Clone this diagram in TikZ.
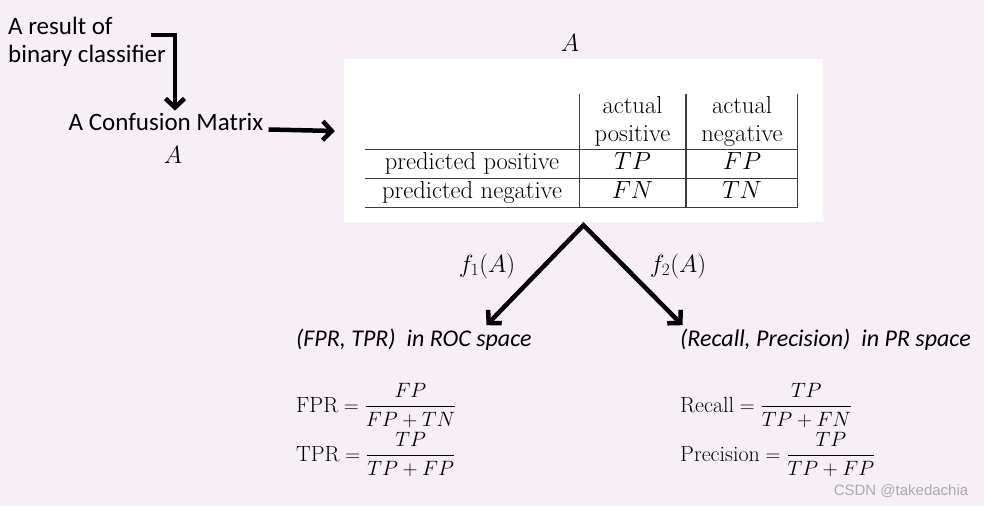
\documentclass[tikz,border=0pt]{standalone}
\usepackage{fontspec}
\usepackage{amsmath}
\newfontfamily\labfont{Carlito}
\newfontfamily\wmfont{Liberation Sans}
\usetikzlibrary{arrows.meta,calc}
\definecolor{bgpink}{RGB}{246,240,246}
\definecolor{rulegray}{RGB}{60,60,60}
\definecolor{wmgray}{RGB}{170,170,170}

\begin{document}
\begin{tikzpicture}[x=1pt, y=-1pt,
    lbl/.style={font=\labfont\fontsize{25}{28}\selectfont, inner sep=0pt},
    spacelbl/.style={font=\labfont\itshape\fontsize{24}{28}\selectfont, inner sep=0pt, anchor=base west},
    matA/.style={font=\fontsize{30}{34}\selectfont, inner sep=0pt},
    cell/.style={font=\fontsize{24.6}{28}\selectfont, inner sep=0pt, anchor=base},
    eqn/.style={font=\fontsize{22}{26}\selectfont, inner sep=0pt, anchor=base west},
    fn/.style={font=\fontsize{24}{28}\selectfont, inner sep=0pt},
    arr/.style={line width=4.5pt, -{Straight Barb[length=9pt,width=19pt]}},
    fork/.style={line width=4.5pt, line join=miter,
                 {Straight Barb[length=9pt,width=19pt]}-{Straight Barb[length=9pt,width=19pt]}},
    tabrule/.style={rulegray, line width=1.4pt},
  ]

  % ===== canvas =====
  \fill[bgpink] (0,0) rectangle (984,506);
  \useasboundingbox (0,0) rectangle (984,506);

  % ===== left: classifier -> confusion matrix =====
  \node[lbl, align=left, anchor=north west] (res) at (8,17) {A result of\\binary classifier};
  \node[lbl, anchor=base] (cm) at (166,130) {A Confusion Matrix};
  \node[matA, anchor=base] (cmA) at (173,163) {$A$};

  % ===== matrix box =====
  \node[fill=white, minimum width=479, minimum height=163, inner sep=0pt] (mtx) at (583.5,140.5) {};
  \node[matA, anchor=base] (topA) at (570,51) {$A$};

  % table rules
  \foreach \y in {149.5,178.5,207.5}
    \draw[tabrule] (365,\y) -- (798,\y);
  \foreach \x in {579.5,686,797.5}
    \draw[tabrule] (\x,94) -- (\x,207.5);

  % table cells
  \node[cell] (hA1) at (632.5,113) {actual};
  \node[cell] (hP)  at (632.5,141) {positive};
  \node[cell] (hA2) at (742,113) {actual};
  \node[cell] (hN)  at (742,141) {negative};
  \node[cell] (rP)  at (472,169) {predicted positive};
  \node[cell] (rN)  at (472,198) {predicted negative};
  \node[cell] (tp)  at (632.5,169) {$TP$};
  \node[cell] (fp)  at (742,169) {$FP$};
  \node[cell] (fnc) at (632.5,198) {$FN$};
  \node[cell] (tn)  at (742,198) {$TN$};

  % ===== the two spaces =====
  \node[spacelbl] (roc) at (296,346) {(FPR, TPR)\ \ in ROC space};
  \node[spacelbl] (pr)  at (680,346) {(Recall, Precision)\ \ in PR space};

  \node[fn] (f1) at (487,266) {$f_1(A)$};
  \node[fn] (f2) at (678,266) {$f_2(A)$};

  \node[eqn] (fpr)  at (296,412) {$\mathrm{FPR}=\dfrac{FP}{FP+TN}$};
  \node[eqn] (tpr)  at (296,461) {$\mathrm{TPR}=\dfrac{TP}{TP+FP}$};
  \node[eqn] (rec)  at (680,412) {$\mathrm{Recall}=\dfrac{TP}{TP+FN}$};
  \node[eqn] (prec) at (680,461) {$\mathrm{Precision}=\dfrac{TP}{TP+FP}$};

  \node[font=\wmfont\fontsize{15}{17}\selectfont, text=wmgray, inner sep=0pt] (wm) at (901,491) {CSDN @takedachia};

  % ===== arrows =====
  \coordinate (fk) at ($(mtx.south)+(0,3)$);
  \coordinate (rocin) at ($(fk)+(-97,100)$);
  \coordinate (prin) at ($(fk)+(99,100)$);
  \coordinate (resout) at ($(res.north east)+(-15,18)$);
  \draw[arr] (resout) -| ($(cm.north)+(9,-2)$);
  \draw[arr] ($(cm.east)+(5,8)$) -- ($(mtx.west)+(-9,-9.5)$);
  \draw[fork] (rocin) -- (fk) -- (prin);

\end{tikzpicture}
\end{document}
